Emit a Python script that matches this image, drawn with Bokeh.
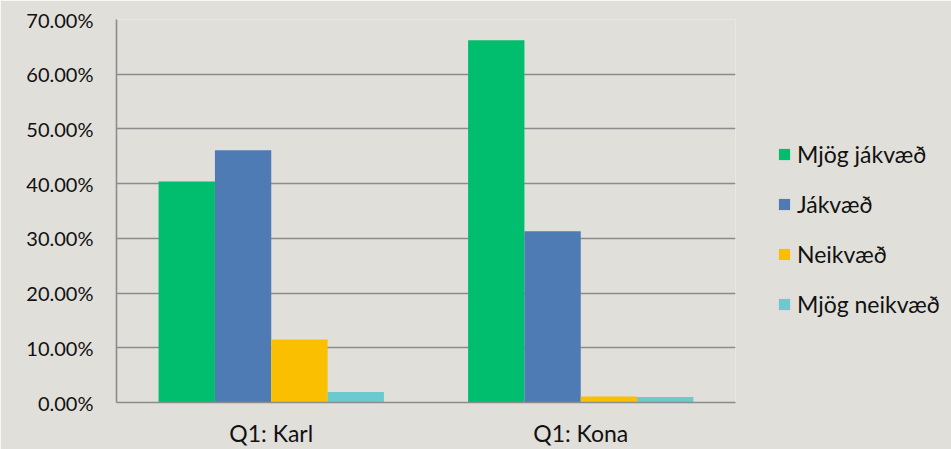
from bokeh.plotting import figure
from bokeh.models import (ColumnDataSource, Range1d, FixedTicker, NumeralTickFormatter,
                          Legend, LegendItem)
from bokeh.transform import dodge
from bokeh.embed import file_html
from bokeh.resources import INLINE

categories = ["Q1: Karl", "Q1: Kona"]
series_names = ["Mjög jákvæð", "Jákvæð", "Neikvæð", "Mjög neikvæð"]
mjog_jakvaed = [0.404, 0.662]
jakvaed = [0.461, 0.313]
neikvaed = [0.115, 0.011]
mjog_neikvaed = [0.019, 0.010]
y_ticks = [0.0, 0.1, 0.2, 0.3, 0.4, 0.5, 0.6, 0.7]

colors = ["#00BE6E", "#4F7BB4", "#FAC000", "#6CC9CE"]
bg = "#E1DFDA"
grid_col = "#8C8C8C"
font = "Lato"

source = ColumnDataSource(dict(cat=categories, s0=mjog_jakvaed, s1=jakvaed,
                               s2=neikvaed, s3=mjog_neikvaed))

p = figure(x_range=categories, y_range=Range1d(0, 0.70),
           frame_width=619, frame_height=383,
           output_backend="svg", toolbar_location=None,
           background_fill_color=bg, border_fill_color=bg,
           min_border_left=116, min_border_right=200,
           min_border_top=19, min_border_bottom=31)
p.outline_line_color = None

bw = 0.182
offsets = [-1.5 * bw, -0.5 * bw, 0.5 * bw, 1.5 * bw]
renderers = []
for i, key in enumerate(["s0", "s1", "s2", "s3"]):
    r = p.vbar(x=dodge("cat", offsets[i], range=p.x_range), top=key, width=bw,
               source=source, fill_color=colors[i], line_color=None)
    renderers.append(r)

legend = Legend(items=[LegendItem(label=n, renderers=[r]) for n, r in zip(series_names, renderers)],
                location=(42, 84))
legend.background_fill_alpha = 0
legend.border_line_color = None
legend.glyph_width = 14
legend.glyph_height = 14
legend.label_standoff = 6
legend.label_height = 25
legend.label_text_font = font
legend.label_text_font_size = "23px"
legend.label_text_color = "#111111"
legend.spacing = 22
legend.padding = 0
legend.margin = 0
p.add_layout(legend, "right")

p.xgrid.grid_line_color = None
p.ygrid.grid_line_color = grid_col
p.ygrid.grid_line_width = 1.6
p.yaxis.ticker = FixedTicker(ticks=y_ticks)
p.yaxis.formatter = NumeralTickFormatter(format="0.00%")

for ax in (p.xaxis, p.yaxis):
    ax.axis_line_color = grid_col
    ax.axis_line_width = 1.6
    ax.major_tick_line_color = None
    ax.minor_tick_line_color = None
    ax.major_label_text_font = font
    ax.major_label_text_color = "#111111"
p.yaxis.major_label_text_font_size = "20px"
p.xaxis.major_label_text_font_size = "23px"
p.yaxis.major_label_standoff = 17
p.xaxis.major_label_standoff = 10

open("out.html", "w").write(file_html(p, INLINE))
